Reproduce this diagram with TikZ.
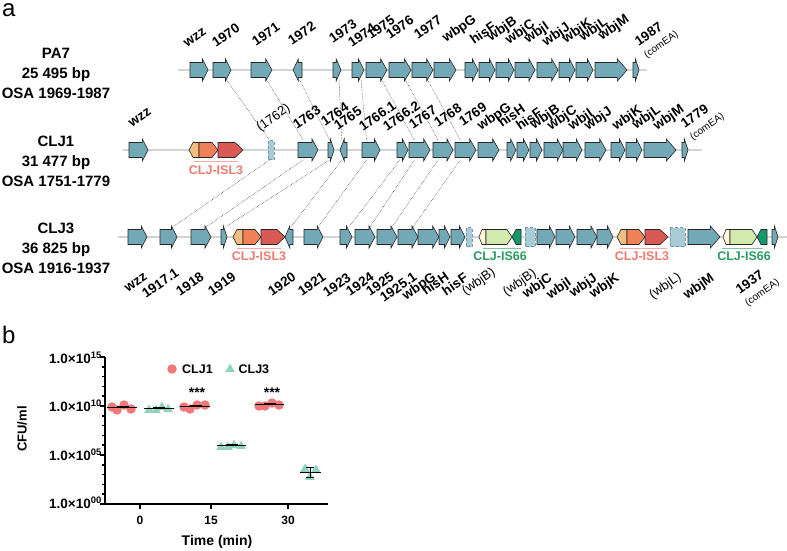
\documentclass[tikz,border=0pt]{standalone}
\usepackage{fontspec}
\setmainfont{Liberation Sans}
\usepackage{tikz}
\usetikzlibrary{positioning,shapes.geometric}
\definecolor{genefill}{HTML}{73A8B6}
\definecolor{ghostfill}{HTML}{A9CBD5}
\definecolor{ghostline}{HTML}{6F98A4}
\definecolor{islpale}{HTML}{F2BD80}
\definecolor{islmid}{HTML}{F08159}
\definecolor{isldark}{HTML}{D95A55}
\definecolor{isltext}{HTML}{EE7A72}
\definecolor{iscream}{HTML}{FFF6DA}
\definecolor{islight}{HTML}{D3EAAE}
\definecolor{isdark}{HTML}{16996A}
\definecolor{istext}{HTML}{2A9B60}
\definecolor{clja}{HTML}{F27877}
\definecolor{cljb}{HTML}{90D4C0}
\newcommand{\comfont}{\mdseries\fontsize{10}{11}\selectfont}
% end points for the dotted links
\newcommand{\geneends}[4]{%
  \coordinate (#1-tl) at ({#2+0.25*(#3-#2)},#4-10);%
  \coordinate (#1-tr) at ({#2+0.75*(#3-#2)},#4-10);%
  \coordinate (#1-bl) at ({#2+0.25*(#3-#2)},#4+10);%
  \coordinate (#1-br) at ({#2+0.75*(#3-#2)},#4+10);}
\newcommand{\generight}[4]{%
  \pgfmathsetmacro{\ghd}{min(max(0.3*(#3-#2),min(0.6*(#3-#2),5.5)),10)}%
  \draw[gene] (#2,#4-7.5) -- (#3-\ghd,#4-7.5) -- (#3-\ghd,#4-11) -- (#3,#4)
    -- (#3-\ghd,#4+11) -- (#3-\ghd,#4+7.5) -- (#2,#4+7.5) -- cycle;
  \geneends{#1}{#2}{#3}{#4}}
\newcommand{\geneleft}[4]{%
  \pgfmathsetmacro{\ghd}{min(max(0.3*(#3-#2),min(0.6*(#3-#2),5.5)),10)}%
  \draw[gene] (#3,#4-7.5) -- (#2+\ghd,#4-7.5) -- (#2+\ghd,#4-11) -- (#2,#4)
    -- (#2+\ghd,#4+11) -- (#2+\ghd,#4+7.5) -- (#3,#4+7.5) -- cycle;
  \geneends{#1}{#2}{#3}{#4}}
\newcommand{\ghostgene}[4]{%
  \draw[ghost] (#2,#4-9.5) rectangle (#3,#4+9.5);
  \geneends{#1}{#2}{#3}{#4}}
% mobile element pieces: x1, x2, row, head, fill
\newcommand{\mobright}[5]{%
  \draw[mob, fill=#5] (#1,#3-7.5) -- (#2-#4,#3-7.5) -- (#2,#3) -- (#2-#4,#3+7.5) -- (#1,#3+7.5) -- cycle;}
\newcommand{\mobleft}[5]{%
  \draw[mob, fill=#5] (#1,#3) -- (#1+#4,#3-7.5) -- (#2,#3-7.5) -- (#2,#3+7.5) -- (#1+#4,#3+7.5) -- cycle;}
\begin{document}
\begin{tikzpicture}[x=1pt, y=-1pt,
  gene/.style={draw=black!85, fill=genefill, line width=0.6pt},
  ghost/.style={draw=ghostline, fill=ghostfill, densely dashed, line width=0.6pt},
  mob/.style={draw=black!85, line width=0.6pt},
  spine/.style={draw=black!17, line width=2.5pt},
  link/.style={densely dotted, black!85, line width=0.5pt},
  strain/.style={font=\bfseries\fontsize{15}{20}\selectfont, align=center},
  uplab/.style={font=\bfseries\fontsize{13.5}{14}\selectfont, rotate=35, anchor=base west, inner sep=0pt},
  dnlab/.style={font=\bfseries\fontsize{13.5}{14}\selectfont, rotate=35, anchor=base east, inner sep=0pt},
  pseudo/.style={font=\mdseries\fontsize{13}{14}\selectfont},
  isltag/.style={font=\bfseries\fontsize{12.5}{13}\selectfont, text=isltext},
  istag/.style={font=\bfseries\fontsize{12.5}{13}\selectfont, text=istext},
  islline/.style={isltext!65, line width=1pt},
  isline/.style={istext!60, line width=1pt},
  panel/.style={font=\fontsize{24}{24}\selectfont, anchor=base west, inner sep=0pt},
  axis/.style={line width=1.6pt},
  ytl/.style={font=\bfseries\fontsize{13.5}{14}\selectfont, anchor=east, inner sep=0pt},
  xtl/.style={font=\bfseries\fontsize{12}{12}\selectfont},
  dot/.style={circle, fill=clja, inner sep=0pt, minimum size=9.5pt},
  tri/.style={regular polygon, regular polygon sides=3, fill=cljb, inner sep=0pt, minimum size=11pt},
  mean/.style={line width=0.8pt},
  sem/.style={line width=2pt},
  stars/.style={font=\bfseries\fontsize{14}{14}\selectfont},
  legtxt/.style={font=\bfseries\fontsize{12.5}{13}\selectfont, inner sep=0pt}]
\useasboundingbox (0,0) rectangle (787,551);
% panel letters
\node[panel] (pa) at (2,17) {a};
\node[panel] (pb) at (2,343) {b};
% strain names
\node[strain] (s-pa7) at (56,73) {PA7\\25 495 bp\\OSA 1969-1987};
\node[strain] (s-clj1) at (56,161) {CLJ1\\31 477 bp\\OSA 1751-1779};
\node[strain] (s-clj3) at (56,248) {CLJ3\\36 825 bp\\OSA 1916-1937};
% PA7 locus
\draw[spine] (178,70) -- (647,70);
\generight{p1}{190}{208}{70} \generight{p2}{213}{231}{70} \generight{p3}{251}{272}{70}
\geneleft{p4}{293}{302}{70} \generight{p5}{333}{341}{70} \generight{p6}{352}{364}{70}
\generight{p7}{366}{387}{70} \generight{p8}{389}{411}{70} \generight{p9}{412}{433}{70}
\generight{p10}{434}{456}{70} \generight{p11}{465}{478}{70} \generight{p12}{479}{495}{70}
\generight{p13}{496}{514}{70} \generight{p14}{515}{535}{70} \generight{p15}{537}{558}{70}
\generight{p16}{559}{575}{70} \generight{p17}{576}{593}{70} \generight{p18}{595}{627}{70}
\generight{p19}{633}{639}{70}
\node[uplab] (lp1) at (187,48) {wzz};
\node[uplab] (lp2) at (216,48) {1970};
\node[uplab] (lp3) at (256,47) {1971};
\node[uplab] (lp4) at (292,46) {1972};
\node[uplab] (lp5) at (333,44) {1973};
\node[uplab] (lp6) at (352,48) {1974};
\node[uplab] (lp7) at (371,40) {1975};
\node[uplab] (lp8) at (390,40) {1976};
\node[uplab] (lp9) at (418,40) {1977};
\node[uplab] (lp10) at (446,43) {wbpG};
\node[uplab] (lp11) at (474,45) {hisF};
\node[uplab] (lp12) at (491,42) {wbjB};
\node[uplab] (lp13) at (509,45) {wbjC};
\node[uplab] (lp14) at (528,44) {wbjI};
\node[uplab] (lp15) at (546,47) {wbjJ};
\node[uplab] (lp16) at (566,44) {wbjK};
\node[uplab] (lp17) at (583,42) {wbjL};
\node[uplab] (lp18) at (602,41) {wbjM};
\node[uplab, anchor=south west, align=left] (lp19) at (648,60) {1987\\{\comfont (comEA)}};
% CLJ1 locus
\draw[spine] (123,150) -- (702,150);
\generight{c1}{129}{148}{150}
\mobleft{189}{199}{150}{4}{islpale} \mobright{199}{218}{150}{6}{islmid} \mobright{218}{243}{150}{8}{isldark}
\ghostgene{c5}{268}{274}{150}
\generight{c6}{298}{318}{150} \generight{c7}{328}{334}{150} \geneleft{c8}{340}{347}{150}
\generight{c9}{362}{380}{150} \generight{c10}{397}{408}{150} \generight{c11}{409}{430}{150}
\generight{c12}{433}{453}{150} \generight{c13}{455}{476}{150} \generight{c14}{478}{499}{150}
\generight{c15}{507}{516}{150} \generight{c16}{517}{529}{150} \generight{c17}{530}{542}{150}
\generight{c18}{544}{563}{150} \generight{c19}{563}{582}{150} \generight{c20}{585}{606}{150}
\generight{c21}{611}{625}{150} \generight{c22}{626}{642}{150} \generight{c23}{644}{676}{150}
\generight{c24}{682}{688}{150}
\draw[islline] (194,161) -- (238,161);
\node[isltag] (isl1) at (216,170) {CLJ-ISL3};
\node[uplab] (lc1) at (132,128) {wzz};
\node[uplab, pseudo] (lc5) at (260,132) {(1762)};
\node[uplab] (lc6) at (297,130) {1763};
\node[uplab] (lc7) at (325,127) {1764};
\node[uplab] (lc8) at (338,131) {1765};
\node[uplab] (lc9) at (363,132) {1766.1};
\node[uplab] (lc10) at (387,132) {1766.2};
\node[uplab] (lc11) at (413,130) {1767};
\node[uplab] (lc12) at (438,128) {1768};
\node[uplab] (lc13) at (463,127) {1769};
\node[uplab] (lc14) at (481,131) {wbpG};
\node[uplab] (lc15) at (502,128) {hisH};
\node[uplab] (lc16) at (520,131) {hisF};
\node[uplab] (lc17) at (534,130) {wbjB};
\node[uplab] (lc18) at (551,131) {wbjC};
\node[uplab] (lc19) at (572,131) {wbjI};
\node[uplab] (lc20) at (588,131) {wbjJ};
\node[uplab] (lc21) at (616,131) {wbjK};
\node[uplab] (lc22) at (636,130) {wbjL};
\node[uplab] (lc23) at (657,131) {wbjM};
\node[uplab, anchor=south west, align=left] (lc24) at (694,142) {1779\\{\comfont (comEA)}};
% CLJ3 locus
\draw[spine] (118,237) -- (787,237);
\generight{d1}{128}{147}{237} \generight{d2}{160}{177}{237} \generight{d3}{191}{211}{237}
\generight{d4}{221}{227}{237}
\mobleft{233}{243}{237}{4}{islpale} \mobright{243}{261}{237}{6}{islmid} \mobright{261}{285}{237}{8}{isldark}
\geneleft{d8}{285}{293}{237}
\generight{d9}{304}{323}{237} \generight{d10}{340}{352}{237} \generight{d11}{355}{375}{237}
\generight{d12}{377}{397}{237} \generight{d13}{398}{418}{237} \generight{d14}{418}{439}{237}
\generight{d15}{439}{450}{237} \generight{d16}{451}{465}{237}
\ghostgene{d17}{466}{472}{237}
\mobleft{479}{486}{237}{3}{iscream} \mobright{486}{512}{237}{5}{islight} \mobleft{512}{521}{237}{4}{isdark}
\ghostgene{d21}{525}{535}{237}
\generight{d22}{537}{555}{237} \generight{d23}{556}{575}{237} \generight{d24}{577}{597}{237}
\generight{d25}{597}{613}{237}
\mobleft{617}{627}{237}{4}{islpale} \mobright{627}{645}{237}{6}{islmid} \mobright{645}{668}{237}{8}{isldark}
\ghostgene{d29}{670}{685}{237}
\generight{d30}{688}{720}{237}
\mobleft{723}{730}{237}{3}{iscream} \mobright{730}{757}{237}{5}{islight} \mobleft{757}{767}{237}{4}{isdark}
\generight{d34}{772}{778}{237}
\draw[islline] (237,248) -- (281,248); \node[isltag] (isl2) at (259,256) {CLJ-ISL3};
\draw[isline] (483,248) -- (521,248); \node[istag] (is1) at (500,256) {CLJ-IS66};
\draw[islline] (620,248) -- (667,248); \node[isltag] (isl3) at (642,256) {CLJ-ISL3};
\draw[isline] (722,248) -- (763,248); \node[istag] (is2) at (744,256) {CLJ-IS66};
\node[dnlab] (ld1) at (148,279) {wzz};
\node[dnlab] (ld2) at (180,275) {1917.1};
\node[dnlab] (ld3) at (205,279) {1918};
\node[dnlab] (ld4) at (237,279) {1919};
\node[dnlab] (ld8) at (297,279) {1920};
\node[dnlab] (ld9) at (327,279) {1921};
\node[dnlab] (ld10) at (352,280) {1923};
\node[dnlab] (ld11) at (375,279) {1924};
\node[dnlab] (ld12) at (395,279) {1925};
\node[dnlab] (ld13) at (418,279) {1925.1};
\node[dnlab] (ld14) at (437,279) {wbpG};
\node[dnlab] (ld15) at (450,279) {hisH};
\node[dnlab] (ld16) at (469,280) {hisF};
\node[dnlab, pseudo] (ld17) at (496,274) {(wbjB)};
\node[dnlab, pseudo] (ld21) at (537,275) {(wbjB)};
\node[dnlab] (ld22) at (553,280) {wbjC};
\node[dnlab] (ld23) at (572,284) {wbjI};
\node[dnlab] (ld24) at (598,280) {wbjJ};
\node[dnlab] (ld25) at (620,280) {wbjK};
\node[dnlab, pseudo] (ld29) at (682,279) {(wbjL)};
\node[dnlab] (ld30) at (715,280) {wbjM};
\node[uplab, anchor=south west, align=left] (ld34) at (749,308) {1937\\{\comfont (comEA)}};
% synteny links
\draw[link] (p2-br) -- (c5-tl); \draw[link] (p3-br) -- (c6-tl); \draw[link] (p4-br) -- (c7-tl);
\draw[link] (p5-br) -- (c8-tl); \draw[link] (p6-br) -- (c9-tl); \draw[link] (p7-br) -- (c11-tl);
\draw[link] (p8-br) -- (c12-tl); \draw[link] (p9-br) -- (c13-tl);
\draw[link] (c5-bl) -- (d2-tr); \draw[link] (c6-bl) -- (d3-tr); \draw[link] (c7-bl) -- (d4-tr);
\draw[link] (c8-bl) -- (d8-tr); \draw[link] (c9-bl) -- (d9-tr); \draw[link] (c10-bl) -- (d10-tr);
\draw[link] (c11-bl) -- (d11-tr); \draw[link] (c12-bl) -- (d12-tr); \draw[link] (c13-bl) -- (d13-tr);
% panel b axes
\draw[axis] (105,357) -- (105,504) -- (328,504);
\foreach \d in {1,2,3,4,6,7,8,9,11,12,13,14} \draw[axis] (105,{504-9.8*\d}) -- (102,{504-9.8*\d});
\foreach \d in {0,5,10,15} \draw[axis] (105,{504-9.8*\d}) -- (100,{504-9.8*\d});
\foreach \t in {140,211,288} \draw[axis] (\t,504) -- (\t,509);
\node[ytl] (y15) at (102,358) {1.0×10\textsuperscript{15}};
\node[ytl] (y10) at (102,406) {1.0×10\textsuperscript{10}};
\node[ytl] (y05) at (102,455) {1.0×10\textsuperscript{05}};
\node[ytl] (y00) at (102,503) {1.0×10\textsuperscript{00}};
\node[xtl] (x0) at (140,520) {0};
\node[xtl] (x15) at (211,520) {15};
\node[xtl] (x30) at (288,520) {30};
\node[font=\bfseries\fontsize{14}{14}\selectfont] (xlab) at (217,542) {Time (min)};
\node[font=\bfseries\fontsize{13}{13}\selectfont, rotate=90] (ylab) at (22,429) {CFU/ml};
% legend
\node[dot] (lg1) at (172,369) {};
\node[legtxt, right=5pt of lg1] (lg1t) {CLJ1};
\node[tri] (lg2) at (230,369) {};
\node[legtxt, right=5pt of lg2] (lg2t) {CLJ3};
% data, time 0
\node[dot] (a0a) at (112,407) {}; \node[dot] (a0b) at (117,410) {}; \node[dot] (a0c) at (124,405) {}; \node[dot] (a0d) at (131,409) {};
\draw[mean] (107,407) -- (137,407); \draw[sem] (117,407) -- (129,407);
\node[tri] (b0a) at (149,410) {}; \node[tri] (b0b) at (156,410) {}; \node[tri] (b0c) at (162,407) {}; \node[tri] (b0d) at (168,409) {};
\draw[mean] (144,408) -- (174,408); \draw[sem] (153,408) -- (165,408);
% data, time 15
\node[dot] (a15a) at (184,407) {}; \node[dot] (a15b) at (190,409) {}; \node[dot] (a15c) at (197,405) {}; \node[dot] (a15d) at (205,405) {};
\draw[mean] (180,406) -- (210,406); \draw[sem] (190,406) -- (202,406);
\node[stars] (st15) at (197,393) {***};
\node[tri] (b15a) at (221,447) {}; \node[tri] (b15b) at (228,447) {}; \node[tri] (b15c) at (234,445) {}; \node[tri] (b15d) at (241,446) {};
\draw[mean] (217,445) -- (246,445); \draw[sem] (226,445) -- (238,445);
% data, time 30
\node[dot] (a30a) at (259,406) {}; \node[dot] (a30b) at (265,406) {}; \node[dot] (a30c) at (272,403) {}; \node[dot] (a30d) at (279,405) {};
\draw[mean] (255,404) -- (284,404); \draw[sem] (264,404) -- (276,404);
\node[stars] (st30) at (272,393) {***};
\node[tri] (b30a) at (305,469) {}; \node[tri] (b30b) at (310,477) {}; \node[tri] (b30c) at (316,470) {};
\draw[mean] (300,472) -- (321,472);
\draw[mean] (310,467) -- (310,477) (306,467) -- (314,467) (306,477) -- (314,477);
\end{tikzpicture}
\end{document}
